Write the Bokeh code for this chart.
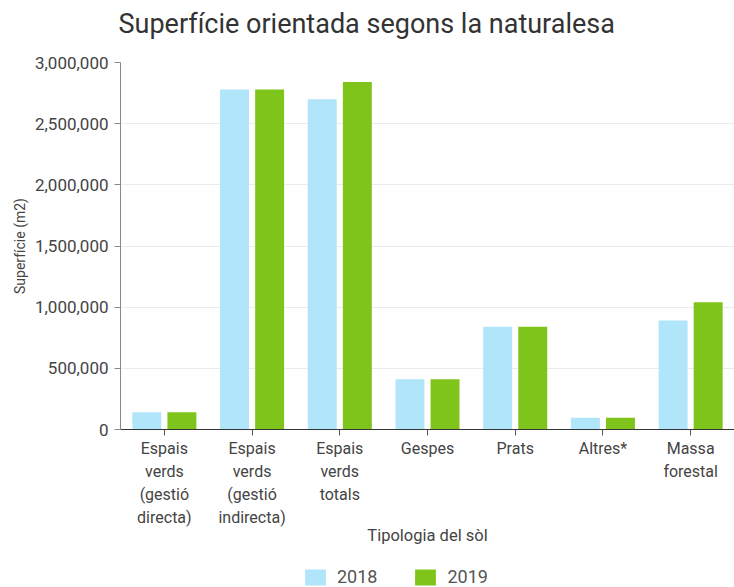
from bokeh.plotting import figure
from bokeh.layouts import column
from bokeh.models import (FactorRange, Range1d, NumeralTickFormatter, FixedTicker,
                          ColumnDataSource, Legend, LegendItem)
from bokeh.transform import dodge
from bokeh.embed import file_html
from bokeh.resources import INLINE

categories = ["Espais\nverds\n(gestió\ndirecta)", "Espais\nverds\n(gestió\nindirecta)",
              "Espais\nverds\ntotals", "Gespes", "Prats", "Altres*", "Massa\nforestal"]
values_2018 = [140000, 2780000, 2700000, 410000, 840000, 97000, 890000]
values_2019 = [140000, 2780000, 2840000, 410000, 840000, 97000, 1040000]
y_ticks = [0, 500000, 1000000, 1500000, 2000000, 2500000, 3000000]
series_labels = ["2018", "2019"]
title_text = "Superfície orientada segons la naturalesa"

FONT = "Roboto"
C2018 = "#b1e5f9"
C2019 = "#7fc41b"

src = ColumnDataSource(dict(cat=categories, v2018=values_2018, v2019=values_2019))

# title strip
tf = figure(width=734, height=50, x_range=Range1d(0, 1), y_range=Range1d(0, 1),
            output_backend="svg", toolbar_location=None, min_border=0)
tf.axis.visible = False
tf.grid.visible = False
tf.outline_line_color = None
tf.title.text = title_text
tf.title.text_font = FONT
tf.title.text_font_size = "27px"
tf.title.text_font_style = "normal"
tf.title.text_color = "#333333"
tf.title.align = "left"
tf.title.offset = -2
tf.title.vertical_align = "top"
tf.title.standoff = 14

# main chart
p = figure(width=734, height=507, x_range=FactorRange(*categories),
           y_range=Range1d(0, 3000000), output_backend="svg", toolbar_location=None,
           min_border_left=120, min_border_right=0, min_border_top=12, min_border_bottom=128)

p.vbar(x=dodge("cat", -0.2, range=p.x_range), top="v2018", width=0.33, source=src,
       fill_color=C2018, line_color=None)
p.vbar(x=dodge("cat", 0.2, range=p.x_range), top="v2019", width=0.33, source=src,
       fill_color=C2019, line_color=None)

p.outline_line_color = None
p.xgrid.grid_line_color = None
p.ygrid.grid_line_color = "#ebebeb"
p.ygrid.ticker = FixedTicker(ticks=y_ticks)

p.yaxis.ticker = FixedTicker(ticks=y_ticks)
p.yaxis.formatter = NumeralTickFormatter(format="0,0")
p.yaxis.axis_label = "Superfície (m2)"
p.yaxis.axis_label_text_font = FONT
p.yaxis.axis_label_text_font_size = "14px"
p.yaxis.axis_label_text_font_style = "normal"
p.yaxis.axis_label_text_color = "#444444"
p.yaxis.axis_label_standoff = 4
p.yaxis.major_label_text_font = FONT
p.yaxis.major_label_text_font_size = "17px"
p.yaxis.major_label_text_color = "#444444"
p.yaxis.axis_line_color = "#888888"
p.yaxis.major_tick_line_color = "#888888"
p.yaxis.major_tick_out = 6
p.yaxis.major_tick_in = 0
p.yaxis.minor_tick_line_color = None
p.yaxis.major_label_standoff = 6

p.xaxis.axis_label = "Tipologia del sòl"
p.xaxis.axis_label_text_font = FONT
p.xaxis.axis_label_text_font_size = "16.5px"
p.xaxis.axis_label_text_font_style = "normal"
p.xaxis.axis_label_text_color = "#444444"
p.xaxis.axis_label_standoff = -4
p.xaxis.major_label_text_font = FONT
p.xaxis.major_label_text_font_size = "16px"
p.xaxis.major_label_text_color = "#444444"
p.xaxis.major_label_text_line_height = 1.22
p.xaxis.axis_line_color = "#333333"
p.xaxis.major_tick_line_color = "#555555"
p.xaxis.major_tick_out = 6
p.xaxis.major_tick_in = 0
p.xaxis.major_label_standoff = 3

# legend strip under the chart (its bars lie far outside its visible ranges)
lg = figure(width=734, height=30, x_range=Range1d(0, 1), y_range=Range1d(-2, -1),
            output_backend="svg", toolbar_location=None, min_border=0)
lg.axis.visible = False
lg.grid.visible = False
lg.outline_line_color = None
k1 = lg.vbar(x="v2018", top="v2018", width=0.3, source=src, fill_color=C2018, line_color=None)
k2 = lg.vbar(x="v2019", top="v2019", width=0.3, source=src, fill_color=C2019, line_color=None)
legend = Legend(items=[LegendItem(label=series_labels[0], renderers=[k1], index=0),
                       LegendItem(label=series_labels[1], renderers=[k2], index=0)],
                orientation="horizontal", location=(182, 0),
                glyph_width=26, glyph_height=20, label_height=20, label_standoff=9,
                label_text_font=FONT, label_text_font_size="18px",
                label_text_color="#555555", label_text_baseline="middle",
                spacing=35, padding=0, margin=0, border_line_color=None,
                background_fill_alpha=0)
lg.add_layout(legend, "center")

layout = column(tf, p, lg, spacing=0)
open("out.html", "w").write(file_html(layout, INLINE))
